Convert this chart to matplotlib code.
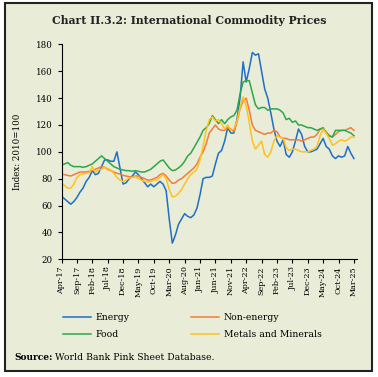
import numpy as np
import pandas as pd
import matplotlib
matplotlib.use("Agg")
import matplotlib.pyplot as plt
from matplotlib.patches import Rectangle

plt.rcParams['font.family'] = ['DejaVu Serif']

# monthly, Apr-17 .. Mar-25 (2010=100)
months = pd.date_range('2017-04-01', periods=96, freq='MS')

energy = [67, 65, 63, 61, 63, 66, 70, 73, 78,
          81, 86, 83, 84, 89, 94, 94, 93, 93, 100, 88, 76,
          77, 80, 82, 85, 83, 80, 77, 74, 76, 74, 76, 78,
          76, 71, 50, 32, 38, 46, 50, 54, 52, 51, 53, 58,
          68, 80, 81, 81, 82, 91, 99, 101, 108, 118, 114, 114,
          124, 140, 167, 152, 162, 174, 172, 173, 160, 147, 140, 129,
          117, 108, 104, 109, 98, 96, 100, 108, 117, 113, 104, 100,
          100, 101, 102, 106, 110, 104, 102, 97, 95, 97, 96, 97,
          104, 99, 95]

non_energy = [83.5, 83, 82.5, 82, 83, 84, 85, 85, 85,
              85.5, 86, 87, 88, 89, 88.5, 87, 86, 85, 84, 83.5, 82.5,
              82, 81.5, 81, 82, 82, 81, 80, 79, 79, 80, 81, 83,
              84, 82, 79, 76.5, 77, 79, 80, 82, 84, 86, 88, 91,
              96, 100, 106, 114, 117, 120, 117, 116, 116, 118, 117, 115,
              122, 132, 138, 140, 131, 120, 116, 115, 114, 113, 114, 114,
              116, 115, 111, 110, 110, 109, 109, 109, 109, 108, 109, 110,
              111, 111, 113, 117, 117, 115, 112, 111, 113, 115, 116, 116,
              117, 118, 116]

food = [90, 91, 92, 90, 89, 89, 89, 88.5, 89,
        90, 91, 93, 95, 97, 95, 93, 91, 89, 88, 87, 86.5,
        86, 86, 85.5, 86, 85.5, 85, 85, 86, 87, 89, 91, 93,
        94, 91, 88, 86, 86.5, 88, 90, 93, 97, 99, 103, 107,
        111, 116, 118, 121, 127, 124, 121, 124, 121, 124, 126, 127,
        131, 143, 152, 153, 153, 144, 135, 132, 133, 133, 131, 132,
        132, 132, 131, 129, 124, 125, 122, 123, 120, 120, 119, 118,
        118, 117, 116, 117, 118, 114, 112, 111, 116, 116, 116, 116,
        115, 114, 112]

metals = [76.5, 75, 73, 73, 76, 81, 83, 83.5, 84,
          84.5, 89, 85, 86.5, 87, 88.5, 87.5, 86.5, 84, 81, 79, 78,
          79, 80.5, 81, 81.5, 80, 79, 78, 77.5, 78, 79, 79, 81,
          83, 80, 72, 66.5, 67, 69, 72, 76, 80, 83, 85, 87,
          94, 104, 116, 124, 126, 123, 124, 121, 117, 120, 116, 117,
          123, 133, 141, 134, 122, 108, 102, 105, 108, 98, 96, 100,
          108, 112, 111, 110, 103, 101, 102, 102, 101, 100, 100, 100,
          101, 102, 104, 112, 117, 114, 110, 105, 106, 108, 109, 108,
          109, 111, 111]

tick_labels = [m.strftime('%b-%y') for m in months[::5]]

bg = '#E9ECD7'
fig = plt.figure(figsize=(3.78, 3.77), dpi=100, facecolor='white')
fig.patches.append(Rectangle((5/378, 1-371/377), 367/378, 368/377,
                             transform=fig.transFigure, facecolor=bg,
                             edgecolor='#222222', linewidth=1.5, zorder=-5))

ax = fig.add_axes([61.5/378, 1-259.3/377, (357-61.5)/378, (259.3-44.4)/377])
ax.set_facecolor('none')
ax.set_zorder(2)

x = np.arange(len(months))
ax.plot(x, energy, color='#1F6FC5', lw=1.1, label='Energy')
ax.plot(x, non_energy, color='#F07D3C', lw=1.1, label='Non-energy')
ax.plot(x, food, color='#2BA84A', lw=1.1, label='Food')
ax.plot(x, metals, color='#FFC21A', lw=1.1, label='Metals and Minerals')

ax.set_xlim(0, 96)
ax.set_ylim(20, 180)
ax.set_yticks(range(20, 181, 20))
ax.set_xticks(x[::5])
ax.set_xticklabels(tick_labels, rotation=90, fontsize=5.8)
ax.tick_params(axis='y', labelsize=6.2, length=3, width=0.8)
ax.tick_params(axis='x', length=3, width=0.8, pad=2)
for s in ['top', 'right']:
    ax.spines[s].set_visible(False)
for s in ['left', 'bottom']:
    ax.spines[s].set_linewidth(0.8)
ax.set_ylabel('Index: 2010=100', fontsize=6.2)
ax.yaxis.set_label_coords(-0.135, 0.5)

fig.text(0.5, 1-20/377, 'Chart II.3.2: International Commodity Prices',
         ha='center', va='center', fontsize=7.8, fontweight='bold', color='#222222')

handles, labels = ax.get_legend_handles_labels()
order = [0, 2, 1, 3]
leg = fig.legend([handles[i] for i in order], [labels[i] for i in order],
                 loc='upper left', bbox_to_anchor=(55/378, 1-305/377), ncol=2,
                 frameon=False, fontsize=6.7, handlelength=3.0, handletextpad=0.5,
                 columnspacing=6.6, labelspacing=0.85)

fig.text(14/378, 1-358/377, 'Source:', fontsize=6.5, fontweight='bold', va='center')
fig.text(55/378, 1-358/377, 'World Bank Pink Sheet Database.', fontsize=6.7, va='center')

fig.savefig('out.png', dpi=100, facecolor='white')
